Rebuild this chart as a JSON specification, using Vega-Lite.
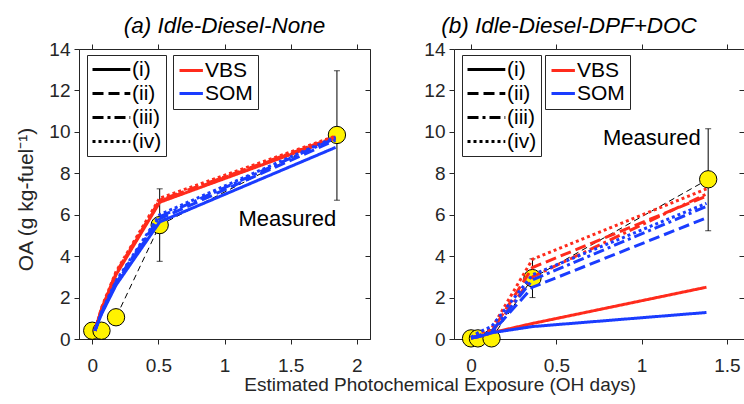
{
  "$schema": "https://vega.github.io/schema/vega-lite/v6.json",
  "background": "white",
  "padding": {"left": 15, "top": 14, "right": 1, "bottom": 4},
  "config": {
    "font": "Liberation Sans",
    "view": {"stroke": "#262626", "strokeWidth": 1},
    "axis": {"domainColor": "#262626", "tickColor": "#262626", "labelColor": "#262626", "titleColor": "#262626", "labelFont": "Liberation Sans", "titleFont": "Liberation Sans", "labelFontSize": 19, "titleFontSize": 20, "titleFontWeight": "normal", "grid": false, "tickSize": 5, "labelPadding": 4},
    "title": {"font": "Liberation Sans", "fontSize": 22.5, "fontStyle": "italic", "fontWeight": "normal", "color": "#000000", "offset": 3},
    "legend": {"labelFont": "Liberation Sans", "labelFontSize": 21, "labelColor": "#000000", "strokeColor": "#262626", "fillColor": "white", "padding": 4, "rowPadding": 1, "symbolStrokeWidth": 3, "symbolSize": 324, "orient": "none"}
  },
  "title": {"text": "Estimated Photochemical Exposure (OH days)", "orient": "bottom", "anchor": "middle", "fontSize": 19, "fontStyle": "normal", "color": "#262626", "dx": 60, "offset": 0},
  "spacing": 52,
  "resolve": {"scale": {"color": "independent", "strokeDash": "independent"}, "legend": {"color": "independent", "strokeDash": "independent"}},
  "hconcat": [
    {
      "width": 291,
      "height": 290,
      "title": {"text": "(a) Idle-Diesel-None"},
      "resolve": {"axis": {"x": "independent", "y": "independent"}},
      "layer": [
        {
          "data": {"values": [{"x": 0, "y": 0.4}, {"x": 0.07, "y": 0.4}, {"x": 0.18, "y": 1.05}, {"x": 0.51, "y": 5.5}, {"x": 1.85, "y": 9.85}]},
          "mark": {"type": "line", "color": "#000000", "strokeWidth": 1, "strokeDash": [6, 4]},
          "encoding": {
            "x": {"field": "x", "type": "quantitative", "scale": {"domain": [-0.1, 2.1], "nice": false, "zero": false}, "axis": {"orient": "bottom", "values": [0, 0.5, 1, 1.5, 2], "format": "~g", "title": null, "labelPadding": 12}},
            "y": {"field": "y", "type": "quantitative", "scale": {"domain": [0, 14], "nice": false}, "axis": {"orient": "left", "values": [0, 2, 4, 6, 8, 10, 12, 14], "title": "OA (g kg-fuel⁻¹)", "titlePadding": 12, "titleY": 150, "titleFontSize": 21}}
          }
        },
        {
          "data": {"values": [{"x": 0.51, "lo": 3.75, "hi": 7.25}, {"x": 1.85, "lo": 6.7, "hi": 12.95}]},
          "layer": [
            {"mark": {"type": "rule", "color": "#000000", "strokeWidth": 1}, "encoding": {"x": {"field": "x", "type": "quantitative", "axis": null}, "y": {"field": "lo", "type": "quantitative", "axis": null}, "y2": {"field": "hi"}}},
            {"mark": {"type": "tick", "orient": "horizontal", "color": "#000000", "thickness": 1, "size": 6}, "encoding": {"x": {"field": "x", "type": "quantitative", "axis": null}, "y": {"field": "lo", "type": "quantitative", "axis": null}}},
            {"mark": {"type": "tick", "orient": "horizontal", "color": "#000000", "thickness": 1, "size": 6}, "encoding": {"x": {"field": "x", "type": "quantitative", "axis": null}, "y": {"field": "hi", "type": "quantitative", "axis": null}}}
          ]
        },
        {
          "data": {"values": [{"x": 0, "y": 0.4}, {"x": 0.07, "y": 0.4}, {"x": 0.18, "y": 1.05}, {"x": 0.51, "y": 5.5}, {"x": 1.85, "y": 9.85}]},
          "mark": {"type": "point", "shape": "circle", "filled": true, "fill": "#fff200", "stroke": "#000000", "strokeWidth": 1, "size": 300, "opacity": 1},
          "encoding": {"x": {"field": "x", "type": "quantitative", "axis": null}, "y": {"field": "y", "type": "quantitative", "axis": null}}
        },
        {
          "data": {"values": [
            {"model": "VBS", "case": "(i)", "x": 0.02, "y": 0.4}, {"model": "VBS", "case": "(i)", "x": 0.07, "y": 1.4}, {"model": "VBS", "case": "(i)", "x": 0.18, "y": 3.1}, {"model": "VBS", "case": "(i)", "x": 0.51, "y": 6.6}, {"model": "VBS", "case": "(i)", "x": 1.84, "y": 9.7},
            {"model": "VBS", "case": "(ii)", "x": 0.02, "y": 0.4}, {"model": "VBS", "case": "(ii)", "x": 0.07, "y": 1.45}, {"model": "VBS", "case": "(ii)", "x": 0.18, "y": 3.15}, {"model": "VBS", "case": "(ii)", "x": 0.51, "y": 6.65}, {"model": "VBS", "case": "(ii)", "x": 1.84, "y": 9.75},
            {"model": "VBS", "case": "(iii)", "x": 0.02, "y": 0.4}, {"model": "VBS", "case": "(iii)", "x": 0.07, "y": 1.45}, {"model": "VBS", "case": "(iii)", "x": 0.18, "y": 3.2}, {"model": "VBS", "case": "(iii)", "x": 0.51, "y": 6.7}, {"model": "VBS", "case": "(iii)", "x": 1.84, "y": 9.75},
            {"model": "VBS", "case": "(iv)", "x": 0.02, "y": 0.4}, {"model": "VBS", "case": "(iv)", "x": 0.07, "y": 1.5}, {"model": "VBS", "case": "(iv)", "x": 0.18, "y": 3.25}, {"model": "VBS", "case": "(iv)", "x": 0.51, "y": 6.8}, {"model": "VBS", "case": "(iv)", "x": 1.84, "y": 9.8},
            {"model": "SOM", "case": "(i)", "x": 0.02, "y": 0.4}, {"model": "SOM", "case": "(i)", "x": 0.07, "y": 1.2}, {"model": "SOM", "case": "(i)", "x": 0.18, "y": 2.6}, {"model": "SOM", "case": "(i)", "x": 0.51, "y": 5.65}, {"model": "SOM", "case": "(i)", "x": 1.84, "y": 9.25},
            {"model": "SOM", "case": "(ii)", "x": 0.02, "y": 0.4}, {"model": "SOM", "case": "(ii)", "x": 0.07, "y": 1.25}, {"model": "SOM", "case": "(ii)", "x": 0.18, "y": 2.7}, {"model": "SOM", "case": "(ii)", "x": 0.51, "y": 5.8}, {"model": "SOM", "case": "(ii)", "x": 1.84, "y": 9.6},
            {"model": "SOM", "case": "(iii)", "x": 0.02, "y": 0.4}, {"model": "SOM", "case": "(iii)", "x": 0.07, "y": 1.25}, {"model": "SOM", "case": "(iii)", "x": 0.18, "y": 2.75}, {"model": "SOM", "case": "(iii)", "x": 0.51, "y": 5.9}, {"model": "SOM", "case": "(iii)", "x": 1.84, "y": 9.7},
            {"model": "SOM", "case": "(iv)", "x": 0.02, "y": 0.4}, {"model": "SOM", "case": "(iv)", "x": 0.07, "y": 1.3}, {"model": "SOM", "case": "(iv)", "x": 0.18, "y": 2.8}, {"model": "SOM", "case": "(iv)", "x": 0.51, "y": 6.0}, {"model": "SOM", "case": "(iv)", "x": 1.84, "y": 9.75}
          ]},
          "mark": {"type": "line", "strokeWidth": 3},
          "encoding": {
            "x": {"field": "x", "type": "quantitative", "axis": null},
            "y": {"field": "y", "type": "quantitative", "axis": null},
            "color": {"field": "model", "type": "nominal", "scale": {"domain": ["VBS", "SOM"], "range": ["#ff2b1c", "#1a3cff"]}, "legend": {"title": null, "legendX": 94, "legendY": 6, "symbolType": "M-1,0H1.6", "labelOffset": 6, "padding": 5}},
            "strokeDash": {"field": "case", "type": "nominal", "scale": {"domain": ["(i)", "(ii)", "(iii)", "(iv)"], "range": [[1, 0], [11, 5], [11, 4, 3, 4], [3, 3]]}, "legend": {"title": null, "legendX": 8, "legendY": 6, "symbolType": "M-1,0H3.2", "symbolStrokeColor": "#000000", "labelOffset": 20, "rowPadding": 2}}
          }
        },
        {
          "data": {"values": [{"x": 1.475, "y": 5.8, "label": "Measured"}]},
          "mark": {"type": "text", "fontSize": 22, "font": "Liberation Sans", "color": "#000000", "align": "center", "baseline": "middle"},
          "encoding": {
            "x": {"field": "x", "type": "quantitative", "axis": {"orient": "top", "labels": false, "domain": false, "title": null, "values": [0, 0.5, 1, 1.5, 2]}},
            "y": {"field": "y", "type": "quantitative", "axis": {"orient": "right", "labels": false, "domain": false, "title": null, "tickSize": -5, "values": [0, 2, 4, 6, 8, 10, 12, 14]}},
            "text": {"field": "label"}
          }
        }
      ]
    },
    {
      "width": 290,
      "height": 290,
      "title": {"text": "(b) Idle-Diesel-DPF+DOC", "dx": -30},
      "resolve": {"axis": {"x": "independent", "y": "independent"}},
      "layer": [
        {
          "data": {"values": [{"x": 0, "y": 0.03}, {"x": 0.04, "y": 0.03}, {"x": 0.12, "y": 0.03}, {"x": 0.36, "y": 2.94}, {"x": 1.39, "y": 7.71}]},
          "mark": {"type": "line", "color": "#000000", "strokeWidth": 1, "strokeDash": [6, 4]},
          "encoding": {
            "x": {"field": "x", "type": "quantitative", "scale": {"domain": [-0.1, 1.6], "nice": false, "zero": false}, "axis": {"orient": "bottom", "values": [0, 0.5, 1, 1.5], "format": "~g", "title": null, "labelPadding": 12}},
            "y": {"field": "y", "type": "quantitative", "scale": {"domain": [0, 14], "nice": false}, "axis": {"orient": "left", "values": [0, 2, 4, 6, 8, 10, 12, 14], "title": null}}
          }
        },
        {
          "data": {"values": [{"x": 0.36, "lo": 2.0, "hi": 3.87}, {"x": 1.39, "lo": 5.22, "hi": 10.15}]},
          "layer": [
            {"mark": {"type": "rule", "color": "#000000", "strokeWidth": 1}, "encoding": {"x": {"field": "x", "type": "quantitative", "axis": null}, "y": {"field": "lo", "type": "quantitative", "axis": null}, "y2": {"field": "hi"}}},
            {"mark": {"type": "tick", "orient": "horizontal", "color": "#000000", "thickness": 1, "size": 6}, "encoding": {"x": {"field": "x", "type": "quantitative", "axis": null}, "y": {"field": "lo", "type": "quantitative", "axis": null}}},
            {"mark": {"type": "tick", "orient": "horizontal", "color": "#000000", "thickness": 1, "size": 6}, "encoding": {"x": {"field": "x", "type": "quantitative", "axis": null}, "y": {"field": "hi", "type": "quantitative", "axis": null}}}
          ]
        },
        {
          "data": {"values": [{"x": 0, "y": 0.03}, {"x": 0.04, "y": 0.03}, {"x": 0.12, "y": 0.03}, {"x": 0.36, "y": 2.94}, {"x": 1.39, "y": 7.71}]},
          "mark": {"type": "point", "shape": "circle", "filled": true, "fill": "#fff200", "stroke": "#000000", "strokeWidth": 1, "size": 300, "opacity": 1},
          "encoding": {"x": {"field": "x", "type": "quantitative", "axis": null}, "y": {"field": "y", "type": "quantitative", "axis": null}}
        },
        {
          "data": {"values": [
            {"model": "VBS", "case": "(i)", "x": 0.0, "y": 0.05}, {"model": "VBS", "case": "(i)", "x": 0.04, "y": 0.1}, {"model": "VBS", "case": "(i)", "x": 0.12, "y": 0.3}, {"model": "VBS", "case": "(i)", "x": 0.36, "y": 0.75}, {"model": "VBS", "case": "(i)", "x": 1.38, "y": 2.5},
            {"model": "VBS", "case": "(ii)", "x": 0.0, "y": 0.05}, {"model": "VBS", "case": "(ii)", "x": 0.04, "y": 0.15}, {"model": "VBS", "case": "(ii)", "x": 0.12, "y": 0.35}, {"model": "VBS", "case": "(ii)", "x": 0.36, "y": 3.45}, {"model": "VBS", "case": "(ii)", "x": 1.38, "y": 6.9},
            {"model": "VBS", "case": "(iii)", "x": 0.0, "y": 0.05}, {"model": "VBS", "case": "(iii)", "x": 0.04, "y": 0.15}, {"model": "VBS", "case": "(iii)", "x": 0.12, "y": 0.3}, {"model": "VBS", "case": "(iii)", "x": 0.36, "y": 3.0}, {"model": "VBS", "case": "(iii)", "x": 1.38, "y": 7.0},
            {"model": "VBS", "case": "(iv)", "x": 0.0, "y": 0.05}, {"model": "VBS", "case": "(iv)", "x": 0.04, "y": 0.25}, {"model": "VBS", "case": "(iv)", "x": 0.12, "y": 0.5}, {"model": "VBS", "case": "(iv)", "x": 0.36, "y": 3.85}, {"model": "VBS", "case": "(iv)", "x": 1.38, "y": 7.25},
            {"model": "SOM", "case": "(i)", "x": 0.0, "y": 0.05}, {"model": "SOM", "case": "(i)", "x": 0.04, "y": 0.1}, {"model": "SOM", "case": "(i)", "x": 0.12, "y": 0.3}, {"model": "SOM", "case": "(i)", "x": 0.36, "y": 0.6}, {"model": "SOM", "case": "(i)", "x": 1.38, "y": 1.28},
            {"model": "SOM", "case": "(ii)", "x": 0.0, "y": 0.05}, {"model": "SOM", "case": "(ii)", "x": 0.04, "y": 0.12}, {"model": "SOM", "case": "(ii)", "x": 0.12, "y": 0.3}, {"model": "SOM", "case": "(ii)", "x": 0.36, "y": 2.5}, {"model": "SOM", "case": "(ii)", "x": 1.38, "y": 5.85},
            {"model": "SOM", "case": "(iii)", "x": 0.0, "y": 0.05}, {"model": "SOM", "case": "(iii)", "x": 0.04, "y": 0.15}, {"model": "SOM", "case": "(iii)", "x": 0.12, "y": 0.35}, {"model": "SOM", "case": "(iii)", "x": 0.36, "y": 2.85}, {"model": "SOM", "case": "(iii)", "x": 1.38, "y": 6.4},
            {"model": "SOM", "case": "(iv)", "x": 0.0, "y": 0.08}, {"model": "SOM", "case": "(iv)", "x": 0.04, "y": 0.3}, {"model": "SOM", "case": "(iv)", "x": 0.12, "y": 0.6}, {"model": "SOM", "case": "(iv)", "x": 0.36, "y": 3.1}, {"model": "SOM", "case": "(iv)", "x": 1.38, "y": 6.55}
          ]},
          "mark": {"type": "line", "strokeWidth": 3},
          "encoding": {
            "x": {"field": "x", "type": "quantitative", "axis": null},
            "y": {"field": "y", "type": "quantitative", "axis": null},
            "color": {"field": "model", "type": "nominal", "scale": {"domain": ["VBS", "SOM"], "range": ["#ff2b1c", "#1a3cff"]}, "legend": {"title": null, "legendX": 91, "legendY": 6, "symbolType": "M-1,0H1.6", "labelOffset": 6, "padding": 5}},
            "strokeDash": {"field": "case", "type": "nominal", "scale": {"domain": ["(i)", "(ii)", "(iii)", "(iv)"], "range": [[1, 0], [11, 5], [11, 4, 3, 4], [3, 3]]}, "legend": {"title": null, "legendX": 8, "legendY": 6, "symbolType": "M-1,0H3.2", "symbolStrokeColor": "#000000", "labelOffset": 20, "rowPadding": 2}}
          }
        },
        {
          "data": {"values": [{"x": 1.06, "y": 9.7, "label": "Measured"}]},
          "mark": {"type": "text", "fontSize": 22, "font": "Liberation Sans", "color": "#000000", "align": "center", "baseline": "middle"},
          "encoding": {
            "x": {"field": "x", "type": "quantitative", "axis": {"orient": "top", "labels": false, "domain": false, "title": null, "values": [0, 0.5, 1, 1.5]}},
            "y": {"field": "y", "type": "quantitative", "axis": {"orient": "right", "labels": false, "domain": false, "title": null, "tickSize": -5, "values": [0, 2, 4, 6, 8, 10, 12, 14]}},
            "text": {"field": "label"}
          }
        }
      ]
    }
  ]
}
